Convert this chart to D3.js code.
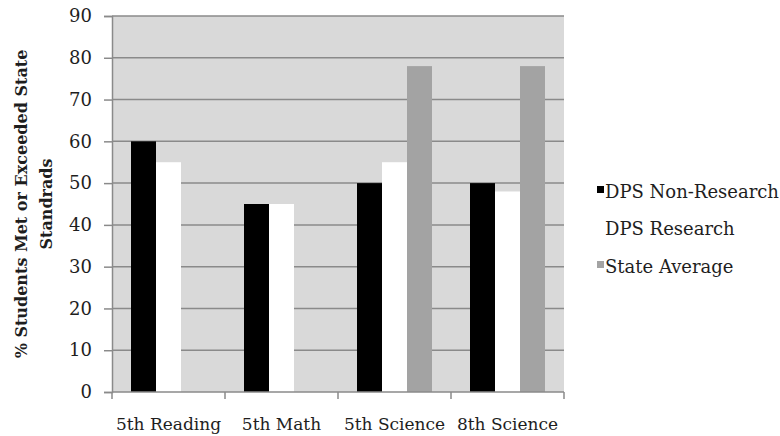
<!DOCTYPE html>
<html>
<head>
<meta charset="utf-8">
<script src="https://cdn.jsdelivr.net/npm/d3@7"></script>
<style>
  html, body { margin: 0; padding: 0; background: #fff; }
  svg text { font-family: "DejaVu Serif", "Liberation Serif", serif; fill: #1e1e1e; }
</style>
</head>
<body>
<svg id="chart" width="780" height="436"></svg>
<script>
// Subjects along the x axis
const categories = ["5th Reading", "5th Math", "5th Science", "8th Science"];
// Percent of students meeting or exceeding state standards, per series
const seriesNames = ["DPS Non-Research", "DPS Research", "State Average"];
const nonResearch = [60, 45, 50, 50];
const research = [55, 45, 55, 48];
const stateAverage = [null, null, 78, 78];
const yTicks = [0, 10, 20, 30, 40, 50, 60, 70, 80, 90];
const seriesColors = ["#000000", "#ffffff", "#a3a3a3"];

const seriesValues = [nonResearch, research, stateAverage];

const svg = d3.select("#chart");
const margin = { left: 112, right: 216, top: 16, bottom: 44 };
const width = 780 - margin.left - margin.right;
const height = 436 - margin.top - margin.bottom;

const g = svg.append("g").attr("transform", `translate(${margin.left},${margin.top})`);

const x = d3.scaleBand().domain(categories).range([0, width]).padding(0);
const xInner = d3.scaleBand().domain(seriesNames).range([0, x.bandwidth()]).paddingInner(0).paddingOuter(0.76);
const y = d3.scaleLinear().domain([0, 90]).range([height, 0]);

// plot background
g.append("rect").attr("x", 0).attr("y", 0).attr("width", width).attr("height", height).attr("fill", "#d9d9d9");

// horizontal gridlines
g.append("g").selectAll("line").data(yTicks.filter(t => t > 0)).join("line")
  .attr("x1", 0).attr("x2", width)
  .attr("y1", d => y(d)).attr("y2", d => y(d))
  .attr("stroke", "#8a8a8a").attr("stroke-width", 1.5);

// bars
const groups = g.append("g").selectAll("g").data(categories).join("g")
  .attr("transform", d => `translate(${x(d)},0)`);
groups.selectAll("rect")
  .data((c, i) => seriesNames.map((s, j) => ({ s, v: seriesValues[j][i], color: seriesColors[j] })).filter(d => d.v != null))
  .join("rect")
  .attr("x", d => xInner(d.s))
  .attr("width", xInner.bandwidth())
  .attr("y", d => y(d.v))
  .attr("height", d => height - y(d.v))
  .attr("fill", d => d.color);

// y axis
const yAxis = g.append("g").call(d3.axisLeft(y).tickValues(yTicks).tickSize(8).tickPadding(12).tickFormat(d3.format("d")));
yAxis.select(".domain").attr("stroke", "#8a8a8a").attr("stroke-width", 1.5);
yAxis.selectAll(".tick line").attr("stroke", "#8a8a8a").attr("stroke-width", 1.5);
yAxis.selectAll("text").attr("font-size", 18).style("font-family", "\"DejaVu Serif\", serif").attr("fill", "#1e1e1e");

// x axis: baseline with ticks at category boundaries
const xAxisG = g.append("g").attr("transform", `translate(0,${height})`);
xAxisG.append("line").attr("x1", 0).attr("x2", width).attr("stroke", "#8a8a8a").attr("stroke-width", 1.5);
xAxisG.selectAll("line.tick").data(d3.range(categories.length + 1)).join("line")
  .attr("class", "tick")
  .attr("x1", i => i * x.step()).attr("x2", i => i * x.step())
  .attr("y1", 0).attr("y2", 7)
  .attr("stroke", "#8a8a8a").attr("stroke-width", 1.5);
xAxisG.selectAll("text").data(categories).join("text")
  .attr("x", d => x(d) + x.bandwidth() / 2)
  .attr("y", 38)
  .attr("text-anchor", "middle")
  .attr("font-size", 17)
  .text(d => d);

// y axis title
const title = svg.append("text")
  .attr("transform", `translate(0,${margin.top + height / 2}) rotate(-90)`)
  .attr("text-anchor", "middle")
  .attr("font-size", 16)
  .attr("font-weight", "bold");
title.append("tspan").attr("x", 0).attr("y", 27).text("% Students Met or Exceeded State");
title.append("tspan").attr("x", 0).attr("y", 52).text("Standrads");

// legend
const legend = svg.append("g").attr("transform", "translate(597,0)");
const rowY = [192, 229, 267];
seriesNames.forEach((s, i) => {
  legend.append("rect").attr("x", 0).attr("y", rowY[i] - 6).attr("width", 7).attr("height", 7).attr("fill", seriesColors[i]);
  legend.append("text").attr("x", 8).attr("y", rowY[i] + 6).attr("font-size", 18).text(s);
});
</script>
</body>
</html>
